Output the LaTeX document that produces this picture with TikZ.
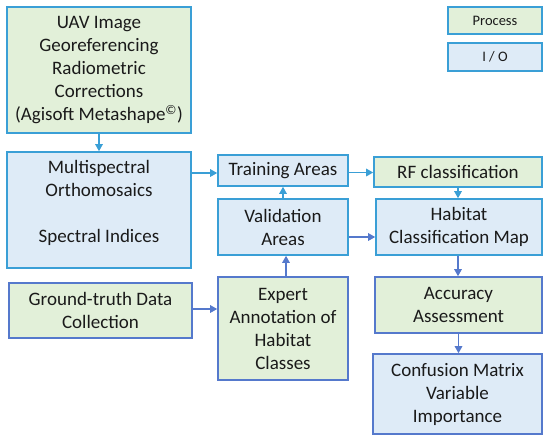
\documentclass[tikz,border=0pt]{standalone}
\usepackage{fontspec}
\setmainfont{Carlito}
\usetikzlibrary{arrows.meta}
\definecolor{teal}{HTML}{3A9FD6}
\definecolor{dblue}{HTML}{5579CC}
\definecolor{gfill}{HTML}{E2F0D9}
\definecolor{bfill}{HTML}{DEEBF7}
\definecolor{txt}{HTML}{1A1A1A}
\tikzset{
  boxtext/.style={inner sep=0pt, align=center, text=txt,
    font=\fontsize{19}{23}\selectfont},
  box/.style={boxtext, draw, line width=1.6pt},
  procbox/.style={box, fill=gfill},
  iobox/.style={box, fill=bfill},
  tl/.style={draw=teal},
  bl/.style={draw=dblue},
  arr/.style={line width=1.4pt, -{Triangle[length=7pt,width=7.5pt]}},
  legtext/.style={font=\fontsize{14.5}{17}\selectfont}
}
\begin{document}
\begin{tikzpicture}[x=1pt,y=1pt]
\useasboundingbox (0,0) rectangle (550,-442);
% boxes
\node[procbox,tl,minimum width=184,minimum height=126] (uav) at (99,-70)
  {UAV Image\\Georeferencing\\Radiometric\\Corrections\\(Agisoft Metashape\textsuperscript{©})};
\node[iobox,tl,minimum width=184,minimum height=116] (multi) at (99,-210) {};
\node[boxtext] (multitxt) at ([yshift=7]multi.center)
  {Multispectral\\Orthomosaics\\[23pt]Spectral Indices};
\node[iobox,tl,minimum width=130,minimum height=31] (train) at (283,-170.5) {Training Areas};
\node[procbox,tl,minimum width=168,minimum height=30] (rf) at (458,-172) {RF classification};
\node[iobox,tl,minimum width=130,minimum height=56] (val) at (283,-227) {Validation\\Areas};
\node[iobox,tl,minimum width=166,minimum height=56] (hab) at (459,-227) {Habitat\\Classification Map};
\node[procbox,bl,minimum width=183,minimum height=55] (gt) at (100.5,-310.5) {Ground-truth Data\\Collection};
\node[procbox,bl,minimum width=130,minimum height=103] (exp) at (283,-328.5) {Expert\\Annotation of\\Habitat\\Classes};
\node[procbox,bl,minimum width=167,minimum height=56] (acc) at (458.5,-305) {Accuracy\\Assessment};
\node[iobox,bl,minimum width=169,minimum height=80] (conf) at (457.5,-394) {Confusion Matrix\\Variable\\Importance};
% legend
\node[procbox,tl,legtext,minimum width=94,minimum height=27] (lproc) at (495,-20.5) {Process};
\node[iobox,tl,legtext,minimum width=94,minimum height=28] (lio) at (495,-57) {I / O};
% arrows
\draw[arr,teal] (uav.south) -- (multi.north);
\draw[arr,teal] ([yshift=-2.5]multi.east |- train.west) -- ([yshift=-2.5]train.west);
\draw[arr,teal] ([yshift=-2]train.east) -- ([yshift=-2]train.east -| rf.west);
\draw[arr,teal] (rf.south) -- (rf.south |- hab.north);
\draw[arr,teal] (val.north) -- (train.south);
\draw[arr,dblue] ([yshift=-10]val.east) -- ([yshift=-10]val.east -| hab.west);
\draw[arr,dblue] ([xshift=3]exp.north) -- ([xshift=3]val.south);
\draw[arr,dblue] ([yshift=1.5]gt.east) -- ([yshift=1.5]gt.east -| exp.west);
\draw[arr,dblue] ([xshift=-1]hab.south) -- ([xshift=-1]hab.south |- acc.north);
\draw[arr,dblue] (acc.south) -- (acc.south |- conf.north);
\end{tikzpicture}
\end{document}
